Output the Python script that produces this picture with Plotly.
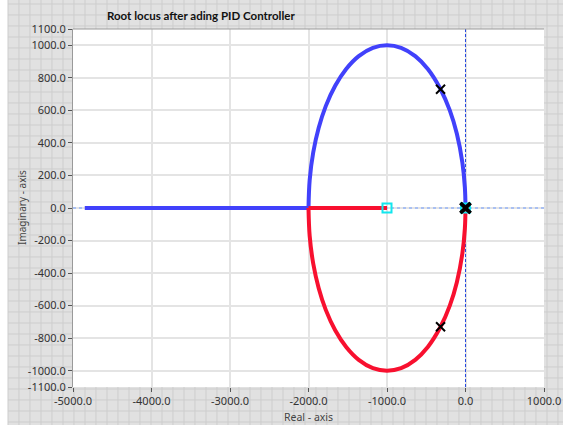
import plotly.graph_objects as go

# ---------------- data ----------------
blue_axis_x = [-4850, -2000]
blue_axis_y = [0, 0]
red_axis_x = [-2000, -1000]
red_axis_y = [0, 0]

upper_x = [-2000, -1985, -1940, -1870, -1780, -1660, -1520, -1360, -1180, -1000,
           -820, -640, -480, -318, -200, -110, -40, -8, 0]
upper_y = [0, 172, 341, 493, 626, 751, 854, 933, 984, 1000,
           984, 933, 854, 730, 600, 456, 280, 126, 0]
lower_x = [-2000, -1985, -1940, -1870, -1780, -1660, -1520, -1360, -1180, -1000,
           -820, -640, -480, -318, -200, -110, -40, -8, 0]
lower_y = [0, -172, -341, -493, -626, -751, -854, -933, -984, -1000,
           -984, -933, -854, -730, -600, -456, -280, -126, 0]

pole_x = [-318, -318]
pole_y = [730, -730]
origin_pole_x = [0, 0]
origin_pole_y = [0, 0]
zero_x = [-1000, 0]
zero_y = [0, 0]

x_ticks = [-5000, -4000, -3000, -2000, -1000, 0, 1000]
y_ticks = [1100, 1000, 800, 600, 400, 200, 0, -200, -400, -600, -800, -1000, -1100]
x_range = [-5000, 1000]
y_range = [-1100, 1100]

# ---------------- layout geometry ----------------
W, H = 563, 425
L, R, T, B = 73, 19, 29, 38
PW, PH = W - L - R, H - T - B


def px(x):
    return (x - L) / PW


def py(y):
    return (H - B - y) / PH


def fmt(v):
    return f"{v:.1f}"


BLUE = "#4141fb"
RED = "#f8102f"
FONT = "Noto Sans"

fig = go.Figure()

# reference dotted / dashed lines
fig.add_trace(go.Scatter(x=x_range, y=[0, 0], mode="lines",
                         line=dict(color="#a9c0f2", width=2, dash="dot"),
                         hoverinfo="skip", showlegend=False))
fig.add_trace(go.Scatter(x=[0, 0], y=y_range, mode="lines",
                         line=dict(color="#2448e0", width=1, dash="3px,2px"),
                         hoverinfo="skip", showlegend=False))

# locus branches
fig.add_trace(go.Scatter(x=blue_axis_x, y=blue_axis_y, mode="lines",
                         line=dict(color=BLUE, width=4), showlegend=False))
fig.add_trace(go.Scatter(x=upper_x, y=upper_y, mode="lines",
                         line=dict(color=BLUE, width=4, shape="spline"), showlegend=False))
fig.add_trace(go.Scatter(x=lower_x, y=lower_y, mode="lines",
                         line=dict(color=RED, width=4, shape="spline"), showlegend=False))
fig.add_trace(go.Scatter(x=red_axis_x, y=red_axis_y, mode="lines",
                         line=dict(color=RED, width=4), showlegend=False))

# zeros
fig.add_trace(go.Scatter(x=zero_x, y=zero_y, mode="markers",
                         marker=dict(symbol="square-open", size=9, color="#12e6ee",
                                     line=dict(width=2, color="#12e6ee")),
                         showlegend=False))
# poles
fig.add_trace(go.Scatter(x=pole_x, y=pole_y, mode="markers",
                         marker=dict(symbol="x-thin-open", size=9, color="black",
                                     line=dict(width=2, color="black")),
                         showlegend=False))
fig.add_trace(go.Scatter(x=origin_pole_x, y=origin_pole_y, mode="markers",
                         marker=dict(symbol="x-thin-open", size=10, color="black",
                                     line=dict(width=3.5, color="black")),
                         showlegend=False))

# ---------------- background grid pattern ----------------
path = []
gx = 8
while gx <= W:
    path.append(f"M{px(gx):.5f},{py(0):.5f} L{px(gx):.5f},{py(H):.5f}")
    gx += 11
gy = 4
while gy <= H:
    path.append(f"M{px(8):.5f},{py(gy):.5f} L{px(W):.5f},{py(gy):.5f}")
    gy += 11

shapes = [
    dict(type="rect", xref="paper", yref="paper", x0=px(8), x1=px(W), y0=py(H), y1=py(0),
         fillcolor="#e1e1e1", line=dict(width=0), layer="below"),
    dict(type="path", xref="paper", yref="paper", path=" ".join(path),
         line=dict(color="#cdcdcd", width=1), layer="below"),
    dict(type="rect", xref="paper", yref="paper", x0=0, x1=1, y0=0, y1=1,
         fillcolor="white", line=dict(width=0), layer="below"),
    dict(type="line", xref="paper", yref="paper", x0=0, x1=1, y0=1, y1=1,
         line=dict(color="#9a9a9a", width=1), layer="above"),
]

fig.update_layout(
    width=W, height=H,
    margin=dict(l=L, r=R, t=T, b=B, pad=0, autoexpand=False),
    paper_bgcolor="white",
    plot_bgcolor="rgba(0,0,0,0)",
    font=dict(family=FONT, size=11, color="#333333"),
    shapes=shapes,
    title=dict(text="<b>Root locus after ading PID Controller</b>",
               x=107 / W, xref="container", xanchor="left",
               y=1 - 16 / H, yref="container", yanchor="middle",
               font=dict(family="Lato", size=11.5, color="#111111")),
    annotations=[
        dict(text="Imaginary - axis", xref="paper", yref="paper",
             x=px(22), y=0.5, textangle=-90, showarrow=False,
             xanchor="center", yanchor="middle",
             font=dict(family=FONT, size=10, color="#444444")),
        dict(text="Real - axis", xref="paper", yref="paper",
             x=0.5, y=py(417), showarrow=False,
             xanchor="center", yanchor="middle",
             font=dict(family=FONT, size=10.5, color="#444444")),
    ],
)

fig.update_xaxes(range=x_range, tickvals=x_ticks, ticktext=[fmt(v) for v in x_ticks],
                 automargin=False,
                 showgrid=True, gridcolor="#e4e4e4", gridwidth=2,
                 zeroline=False, showline=False,
                 ticks="outside", ticklen=4, tickcolor="#555555",
                 tickfont=dict(family=FONT, size=11, color="#333333"))
fig.update_yaxes(range=y_range, tickvals=y_ticks, ticktext=[fmt(v) for v in y_ticks],
                 automargin=False,
                 showgrid=True, gridcolor="#e4e4e4", gridwidth=2,
                 zeroline=False, showline=True, linecolor="#9a9a9a", linewidth=1,
                 ticks="outside", ticklen=4, tickcolor="#555555",
                 tickfont=dict(family=FONT, size=11, color="#333333"))

fig.write_html("out.html")
